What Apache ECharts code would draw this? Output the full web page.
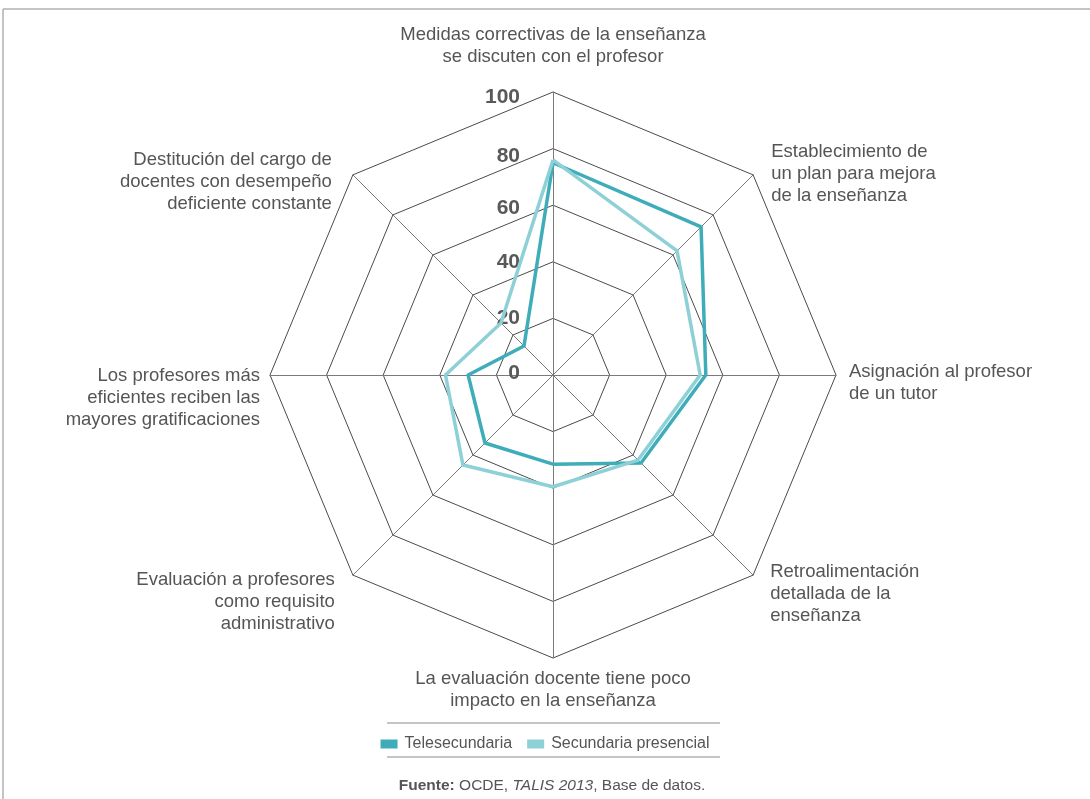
<!DOCTYPE html>
<html>
<head>
<meta charset="utf-8">
<script src="https://cdn.jsdelivr.net/npm/echarts@6/dist/echarts.min.js"></script>
<style>
html,body{margin:0;padding:0;background:#fff;}
#chart{width:1090px;height:799px;}
</style>
</head>
<body>
<div id="chart"></div>
<script>
// Indicators, counterclockwise from the top (ECharts radar order)
const indicatorNames = [
  'Medidas correctivas de la enseñanza\nse discuten con el profesor',
  'Destitución del cargo de\ndocentes con desempeño\ndeficiente constante',
  'Los profesores más\neficientes reciben las\nmayores gratificaciones',
  'Evaluación a profesores\ncomo requisito\nadministrativo',
  'La evaluación docente tiene poco\nimpacto en la enseñanza',
  'Retroalimentación\ndetallada de la\nenseñanza',
  'Asignación al profesor\nde un tutor',
  'Establecimiento de\nun plan para mejora\nde la enseñanza'
];
const seriesNames = ['Telesecundaria', 'Secundaria presencial'];
const telesecundaria = [75, 14.5, 30, 34, 31.5, 44, 54, 74];
const secundariaPresencial = [76, 26, 38, 45, 39.5, 42.5, 52, 62];
const axisMax = 100;

// label layout tweaks (style only)
const nameLayout = [
  {pre: 0, post: 14, pad: null},
  {pre: 28, post: 0, pad: 'pr14'},
  {pre: 46, post: 0, pad: null},
  {pre: 40, post: 0, pad: 'pr11'},
  {pre: 0, post: 0, pad: null},
  {pre: 24, post: 0, pad: 'pl10'},
  {pre: 15, post: 0, pad: 'pl3'},
  {pre: 12, post: 0, pad: 'pl11'}
];
const tickStyle = {0: 't0', 20: 't20', 40: 't40', 60: 't60', 80: 't80', 100: 't100'};

const font = '"Liberation Sans", Arial, Helvetica, sans-serif';
const FS = 18.5;
const chart = echarts.init(document.getElementById('chart'), null, {renderer: 'canvas'});

const tk = (pad) => ({padding: pad, fontSize: 21, fontWeight: 'bold', color: '#595959', fontFamily: font});
const indicators = indicatorNames.map((n, i) => {
  const o = {name: n, max: axisMax, min: 0};
  if (i === 0) {
    o.axisLabel = {
      show: true, margin: 33, fontSize: 21, fontWeight: 'bold', color: '#595959', fontFamily: font,
      formatter: function (v) { return '{' + (tickStyle[v] || 't40') + '|' + v + '}'; },
      rich: {
        t0: tk([0, 0, 4, 0]), t20: tk([0, 0, 0, 0]), t40: tk([0, 0, 0, 0]),
        t60: tk([6, 0, 0, 0]), t80: tk([15, 0, 0, 0]), t100: tk([11, 0, 0, 0])
      }
    };
  }
  return o;
});

const txt = (extra) => Object.assign({fontSize: FS, lineHeight: 22, color: '#555', fontFamily: font}, extra);

const option = {
  animation: false,
  color: ['#3eadb9', '#8dd0d6'],
  radar: {
    center: [553, 375],
    radius: 283,
    startAngle: 90,
    splitNumber: 5,
    shape: 'polygon',
    nameGap: 10,
    indicator: indicators,
    axisName: {
      color: '#555',
      fontSize: FS,
      lineHeight: 22,
      fontFamily: font,
      formatter: function (name) {
        const i = indicatorNames.indexOf(name);
        const L = nameLayout[i] || {pre: 0, post: 0, pad: null};
        let lines = name.split('\n');
        if (L.pad) lines = lines.map(s => '{' + L.pad + '|' + s + '}');
        let t = lines.join('\n');
        if (L.pre) t = '{g' + L.pre + '| }\n' + t;
        if (L.post) t = t + '\n{g' + L.post + '| }';
        return t;
      },
      rich: {
        g12: {lineHeight: 12, fontSize: 1},
        g14: {lineHeight: 14, fontSize: 1},
        g15: {lineHeight: 15, fontSize: 1},
        g24: {lineHeight: 24, fontSize: 1},
        g28: {lineHeight: 28, fontSize: 1},
        g40: {lineHeight: 40, fontSize: 1},
        g46: {lineHeight: 46, fontSize: 1},
        pr14: txt({padding: [0, 14, 0, 0]}),
        pr11: txt({padding: [0, 11, 0, 0]}),
        pl10: txt({padding: [0, 0, 0, 10]}),
        pl11: txt({padding: [0, 0, 0, 11]}),
        pl3: txt({padding: [0, 0, 0, 3]})
      }
    },
    splitLine: {lineStyle: {color: '#4a4a4a', width: 1}},
    splitArea: {show: false},
    axisLine: {lineStyle: {color: '#7a7a7a', width: 1}},
    axisTick: {show: false},
    axisLabel: {show: false}
  },
  legend: {
    left: 'center',
    top: 731,
    itemWidth: 17,
    itemHeight: 9,
    itemGap: 15,
    textStyle: {color: '#555', fontSize: 16, fontFamily: font, padding: [0, 0, 0, 2]},
    data: seriesNames.map(n => ({name: n, icon: 'rect'}))
  },
  series: [{
    type: 'radar',
    symbol: 'none',
    data: [
      {name: seriesNames[0], value: telesecundaria,
       lineStyle: {width: 3.5, color: '#3eadb9'}, itemStyle: {color: '#3eadb9'}},
      {name: seriesNames[1], value: secundariaPresencial,
       lineStyle: {width: 3.5, color: '#8dd0d6'}, itemStyle: {color: '#8dd0d6'}}
    ]
  }],
  graphic: [
    {type: 'line', shape: {x1: 3, y1: 9, x2: 1090, y2: 9}, style: {stroke: '#b0b0b0', lineWidth: 1.5}},
    {type: 'line', shape: {x1: 3, y1: 9, x2: 3, y2: 799}, style: {stroke: '#b0b0b0', lineWidth: 1.5}},
    {type: 'line', shape: {x1: 387, y1: 723, x2: 720, y2: 723}, style: {stroke: '#8a8a8a', lineWidth: 1}},
    {type: 'line', shape: {x1: 387, y1: 757, x2: 720, y2: 757}, style: {stroke: '#8a8a8a', lineWidth: 1}},
    {type: 'text', x: 552, y: 786,
     style: {
       text: '{b|Fuente:} OCDE, {i|TALIS 2013}, Base de datos.',
       fill: '#555', font: '15.5px ' + font, align: 'center', verticalAlign: 'middle',
       rich: {
         b: {fontWeight: 'bold', fontSize: 15.5, fontFamily: font, fill: '#555'},
         i: {fontStyle: 'italic', fontSize: 15.5, fontFamily: font, fill: '#555'}
       }
     }}
  ]
};
chart.setOption(option);
</script>
</body>
</html>
